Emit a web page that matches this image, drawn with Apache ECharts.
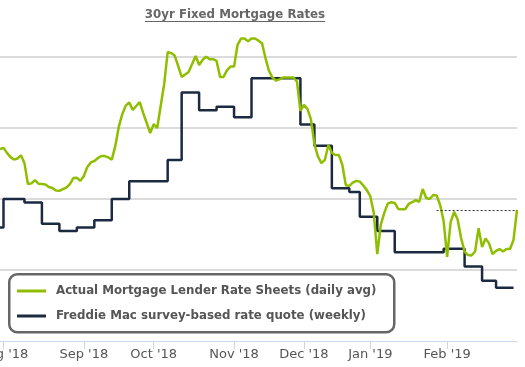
<!DOCTYPE html>
<html><head><meta charset="utf-8">
<script src="https://cdn.jsdelivr.net/npm/echarts@6/dist/echarts.min.js"></script>
<style>html,body{margin:0;padding:0;background:#fff}#c{width:525px;height:367px}</style>
</head><body><div id="c"></div>
<script>
const titleText = "30yr Fixed Mortgage Rates";
const seriesNames = ["Actual Mortgage Lender Rate Sheets (daily avg)", "Freddie Mac survey-based rate quote (weekly)"];
const monthLabels = ["Aug '18", "Sep '18", "Oct '18", "Nov '18", "Dec '18", "Jan '19", "Feb '19"];
const monthStartDay = [1, 24, 44, 67, 87, 106, 128];
const dailyRates = [
  4.741, 4.744, 4.730, 4.718, 4.711, 4.714, 4.723, 4.701, 4.642, 4.644,
  4.653, 4.643, 4.642, 4.641, 4.634, 4.631, 4.624, 4.623, 4.628, 4.632,
  4.642, 4.659, 4.660, 4.651, 4.665, 4.690, 4.703, 4.707, 4.715, 4.721,
  4.721, 4.717, 4.711, 4.749, 4.803, 4.839, 4.863, 4.872, 4.851, 4.862,
  4.873, 4.842, 4.814, 4.786, 4.811, 4.800, 4.862, 4.924, 5.014, 5.011,
  5.004, 4.975, 4.944, 4.951, 4.958, 4.980, 5.003, 4.977, 4.992, 5.001,
  4.994, 4.994, 4.989, 4.944, 4.944, 4.963, 4.973, 4.973, 5.034, 5.052,
  5.052, 5.044, 5.052, 5.052, 5.046, 5.039, 4.997, 4.961, 4.942, 4.934,
  4.937, 4.942, 4.942, 4.942, 4.942, 4.931, 4.848, 4.865, 4.854, 4.825,
  4.755, 4.720, 4.701, 4.710, 4.752, 4.730, 4.724, 4.724, 4.696, 4.639,
  4.637, 4.646, 4.651, 4.649, 4.638, 4.625, 4.608, 4.561, 4.445, 4.527,
  4.561, 4.587, 4.591, 4.589, 4.572, 4.571, 4.571, 4.586, 4.591, 4.597,
  4.592, 4.628, 4.603, 4.600, 4.611, 4.610, 4.583, 4.538, 4.437, 4.535,
  4.564, 4.542, 4.490, 4.451, 4.442, 4.441, 4.452, 4.518, 4.465, 4.489,
  4.475, 4.445, 4.454, 4.459, 4.452, 4.459, 4.459, 4.485, 4.569
];
const weeklyStartDay = [0, 1, 7, 12, 17, 22, 27, 32, 37, 48, 52, 57, 62, 67, 72, 86, 90, 95, 100, 103, 108, 113, 127, 133, 138, 142, 147];
const weeklyRates = [4.52, 4.60, 4.59, 4.53, 4.51, 4.52, 4.54, 4.60, 4.65, 4.71, 4.90, 4.85, 4.86, 4.83, 4.94, 4.81, 4.75, 4.63, 4.62, 4.55, 4.51, 4.45, 4.46, 4.41, 4.37, 4.35, 4.35];
const refLineStartDay = 125;

const days = dailyRates.map((_, i) => String(i));
const lastDay = dailyRates.length - 1;
const lastRate = dailyRates[lastDay];

const titleFont = 'bold 11.8px "DejaVu Sans"';
const cv = document.createElement('canvas').getContext('2d');
cv.font = titleFont;
const titleW = cv.measureText(titleText).width;
const titleX = 235;

const chart = echarts.init(document.getElementById('c'), null, {renderer: 'canvas'});
chart.setOption({
  animation: false,
  backgroundColor: '#fff',
  grid: {left: 0, right: 8, top: -14, bottom: 26, outerBoundsMode: 'none', containLabel: false},
  graphic: [
    {type: 'text', x: titleX, y: 15, style: {text: titleText, font: titleFont, fill: '#666', align: 'center', verticalAlign: 'middle'}},
    {type: 'line', shape: {x1: titleX - titleW / 2, y1: 21.5, x2: titleX + titleW / 2, y2: 21.5}, style: {stroke: '#666', lineWidth: 1}},
    {type: 'rect', z: 5, shape: {x: 9.25, y: 274.25, width: 385, height: 58, r: 8}, style: {fill: '#fff', stroke: '#666', lineWidth: 2.5}}
  ],
  legend: {
    z: 6,
    data: [seriesNames[0], seriesNames[1]],
    orient: 'vertical', left: 17, top: 285,
    padding: 0,
    itemGap: 13, itemWidth: 29, itemHeight: 3, icon: 'rect',
    selectedMode: false,
    textStyle: {fontFamily: 'DejaVu Sans', fontWeight: 'bold', fontSize: 11.8, lineHeight: 12, color: '#555', padding: [0, 0, 0, 5]}
  },
  xAxis: {
    type: 'category', data: days, boundaryGap: false,
    axisLine: {lineStyle: {color: '#ccd6eb', width: 1}},
    axisTick: {show: true, length: 8, interval: (i) => monthStartDay.includes(i), lineStyle: {color: '#ccd6eb'}},
    axisLabel: {
      interval: (i) => monthStartDay.includes(i),
      formatter: (v, i) => monthLabels[monthStartDay.indexOf(Number(v))] || '',
      color: '#555', fontSize: 13, fontFamily: 'DejaVu Sans', margin: 7
    },
    splitLine: {show: false}
  },
  yAxis: {
    type: 'value', min: 4.2, max: 5.2, interval: 0.2,
    axisLabel: {show: false}, axisLine: {show: false}, axisTick: {show: false},
    splitLine: {show: true, showMinLine: false, lineStyle: {color: '#cfcfcf', width: 1.5}}
  },
  series: [
    {
      name: seriesNames[1], type: 'line', step: 'end',
      data: weeklyStartDay.map((d, i) => [d, weeklyRates[i]]),
      showSymbol: false, symbol: 'none',
      lineStyle: {color: '#1b2a41', width: 2.5}, itemStyle: {color: '#1b2a41'}, z: 2
    },
    {
      name: seriesNames[0], type: 'line', data: dailyRates,
      showSymbol: false, symbol: 'none',
      lineStyle: {color: '#8fbe00', width: 2.5}, itemStyle: {color: '#8fbe00'}, z: 3,
      markLine: {
        silent: true, symbol: 'none', label: {show: false},
        lineStyle: {color: '#333', width: 1, type: [2, 2]},
        data: [[{coord: [String(refLineStartDay), lastRate]}, {coord: [String(lastDay), lastRate]}]]
      }
    }
  ]
});
</script>
</body></html>
